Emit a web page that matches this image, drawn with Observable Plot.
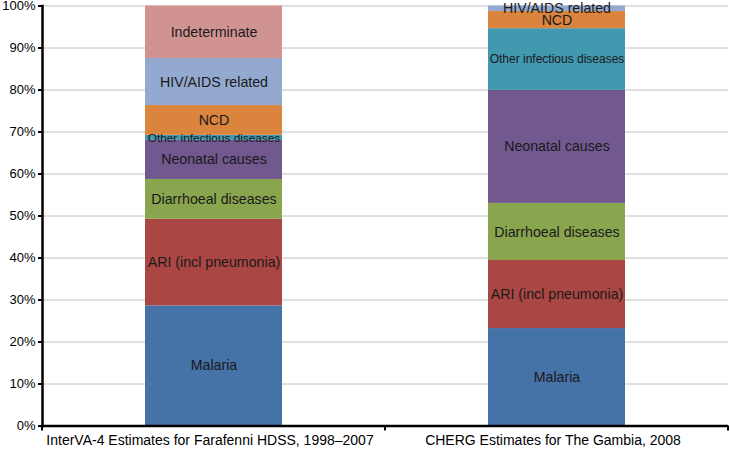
<!DOCTYPE html>
<html><head><meta charset="utf-8">
<script src="https://cdn.jsdelivr.net/npm/d3@7"></script>
<script src="https://cdn.jsdelivr.net/npm/@observablehq/plot@0.6"></script>
<style>body{margin:0;background:#fff}</style>
</head><body><div id="chart"></div>
<script>
const categories = ["InterVA-4 Estimates for Farafenni HDSS, 1998–2007", "CHERG Estimates for The Gambia, 2008"];
const causes = ["Malaria", "ARI (incl pneumonia)", "Diarrhoeal diseases", "Neonatal causes", "Other infectious diseases", "NCD", "HIV/AIDS related", "Indeterminate"];
const interVA = [28.6, 20.6, 9.5, 9.3, 1.2, 7.1, 11.2, 12.5];
const cherg = [23.2, 16.2, 13.6, 26.9, 14.7, 4.1, 1.3, 0];
const colors = ["#4572A7", "#AA4643", "#89A54E", "#71588F", "#4198AF", "#DB843D", "#93A9CF", "#D19392"];
const yTicks = d3.range(0, 101, 10);

const series = [interVA, cherg];
const data = [];
categories.forEach((c, i) => causes.forEach((k, j) => {
  if (series[i][j] > 0) data.push({category: c, cause: k, value: series[i][j]});
}));

const labelSize = d => d.cause === "Other infectious diseases" ? (d.category === categories[0] ? 11.8 : 12) : 14.2;

const chart = Plot.plot({
  width: 730,
  height: 455,
  marginTop: 5.5,
  marginBottom: 29.5,
  marginLeft: 42,
  marginRight: 2,
  style: {fontFamily: "'Liberation Sans', Arial, sans-serif", background: "#fff", color: "#000"},
  x: {domain: categories, paddingInner: 0.6, paddingOuter: 0.3, label: null},
  y: {domain: [0, 100], label: null},
  color: {domain: causes, range: colors},
  marks: [
    Plot.gridY(yTicks, {stroke: "#c0c0c0", strokeOpacity: 1}),
    Plot.barY(data, {x: "category", y: "value", fill: "cause", order: causes}),
    Plot.text(data, Plot.stackY({x: "category", y: "value", z: "cause", order: causes, text: "cause", fontSize: labelSize, fill: "#1a1a1a"})),
    Plot.axisY(yTicks, {tickFormat: d => d + "%", tickSize: 4, tickPadding: 3, fontSize: 13, strokeWidth: 2, label: null}),
    Plot.axisX({tickSize: 0, tickPadding: 9, fontSize: 14, label: null, dx: -4}),
    Plot.frame({anchor: "left", strokeWidth: 2.5}),
    Plot.ruleY([0], {stroke: "#000", strokeWidth: 2.5})
  ]
});

// category-boundary tick marks on the x axis, from the chart's own x scale
const xs = chart.scale("x");
const ys = chart.scale("y");
const x0 = xs.apply(categories[0]), x1 = xs.apply(categories[1]);
const bounds = [xs.range[0], (x0 + xs.bandwidth + x1) / 2, xs.range[1]];
const yb = ys.apply(0);
d3.select(chart).append("g").selectAll("line").data(bounds).join("line")
  .attr("x1", d => d).attr("x2", d => d)
  .attr("y1", yb).attr("y2", yb + 5)
  .attr("stroke", "#000").attr("stroke-width", 2);

document.getElementById("chart").append(chart);
</script>
</body></html>
